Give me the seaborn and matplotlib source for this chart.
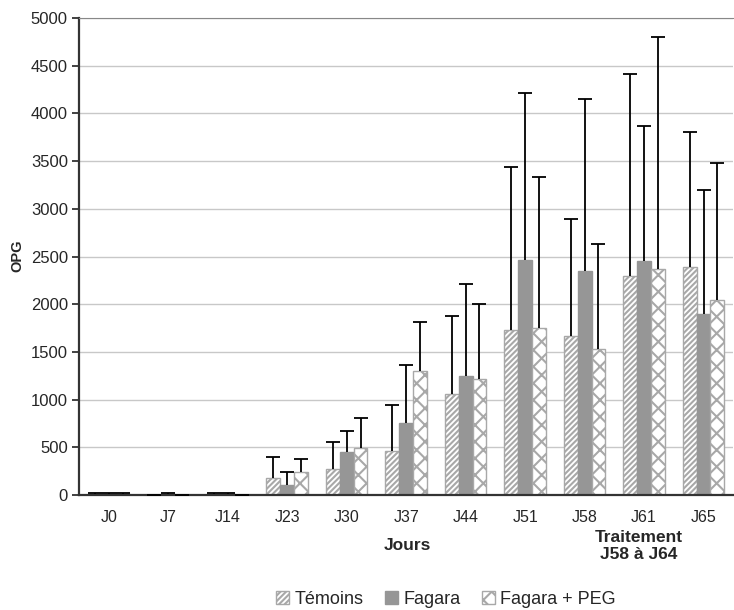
import numpy as np
import pandas as pd
import seaborn as sns
import matplotlib.pyplot as plt
from matplotlib.patches import Patch

days = ["J0", "J7", "J14", "J23", "J30", "J37", "J44", "J51", "J58", "J61", "J65"]
groups = ["Témoins", "Fagara", "Fagara + PEG"]

temoins = [15, 0, 10, 180, 270, 460, 1060, 1730, 1670, 2300, 2390]
fagara = [15, 10, 10, 100, 450, 760, 1250, 2460, 2350, 2450, 1900]
peg = [15, 0, 0, 240, 490, 1300, 1220, 1750, 1530, 2370, 2040]

temoins_top = [25, 0, 20, 400, 555, 940, 1880, 3440, 2895, 4410, 3805]
fagara_top = [25, 20, 20, 240, 670, 1360, 2210, 4210, 4150, 3870, 3200]
peg_top = [25, 0, 0, 375, 810, 1810, 2000, 3330, 2630, 4800, 3485]


def main():
    values = [temoins, fagara, peg]
    tops = [temoins_top, fagara_top, peg_top]
    df = pd.DataFrame({
        "Jours": days * 3,
        "groupe": np.repeat(groups, len(days)),
        "OPG": np.concatenate(values),
    })

    sns.set_style("white")
    plt.rcParams["font.family"] = ["Liberation Sans", "DejaVu Sans"]
    plt.rcParams["hatch.linewidth"] = 1.5

    fig = plt.figure(figsize=(7.34, 6.10), dpi=100)
    ax = fig.add_axes([0.1076, 0.1885, 0.8914, 0.782])

    grey = "#969696"
    edge = "#a8a8a8"
    sns.barplot(data=df, x="Jours", y="OPG", hue="groupe", order=days,
                hue_order=groups, errorbar=None, width=0.7, ax=ax,
                palette=["white", grey, "white"], saturation=1, legend=False)

    styles = [
        dict(facecolor="white", edgecolor=edge, hatch="//////"),
        dict(facecolor=grey, edgecolor=grey, hatch=None),
        dict(facecolor="white", edgecolor=edge, hatch="xx"),
    ]
    for cont, st, val, top in zip(ax.containers, styles, values, tops):
        xs = []
        for bar in cont:
            bar.set_facecolor(st["facecolor"])
            bar.set_edgecolor(st["edgecolor"])
            bar.set_linewidth(1.0)
            if st["hatch"]:
                bar.set_hatch(st["hatch"])
            xs.append(bar.get_x() + bar.get_width() / 2)
        err = np.clip(np.array(top) - np.array(val), 0, None)
        eb = ax.errorbar(xs, val, yerr=[np.zeros(len(val)), err], fmt="none",
                         ecolor="black", elinewidth=1.3, capsize=5,
                         capthick=1.3, zorder=3)
        # one-sided bars: hide the cap sitting on the bar top
        eb[1][0].set_visible(False)

    ax.set_ylim(0, 5000)
    ax.set_xlim(-0.5, len(days) - 0.5)
    ax.set_yticks(np.arange(0, 5001, 500))
    ax.yaxis.grid(True, color="#c8c8c8", linewidth=1)
    ax.set_axisbelow(True)

    ax.set_xticks(np.arange(len(days)))
    ax.set_xticklabels(days)
    ax.set_xticks(np.arange(-0.5, len(days), 1), minor=True)
    ax.tick_params(axis="x", which="major", length=0, labelsize=11.5, pad=11)
    ax.tick_params(axis="x", which="minor", length=5, width=1.3, color="#333333",
                   direction="out")
    ax.tick_params(axis="y", length=5, width=1.3, color="#333333", labelsize=12,
                   direction="out", left=True, pad=3)

    ax.spines["right"].set_visible(False)
    ax.spines["top"].set_color("#888888")
    for side in ["left", "bottom"]:
        ax.spines[side].set_color("#333333")
        ax.spines[side].set_linewidth(1.6)

    ax.set_xlabel("")
    ax.set_ylabel("")
    fig.text(17 / 734, 1 - 256 / 610, "OPG", rotation=90, ha="center",
             va="center", fontsize=10.5, fontweight="bold")
    fig.text(407 / 734, 1 - 545 / 610, "Jours", ha="center", va="center",
             fontsize=12.5, fontweight="bold")
    fig.text(639 / 734, 1 - 546 / 610, "Traitement\nJ58 à J64", ha="center",
             va="center", fontsize=12.5, fontweight="bold", linespacing=1.1)

    handles = [Patch(facecolor=st["facecolor"], edgecolor=st["edgecolor"],
                     hatch=st["hatch"], label=g) for st, g in zip(styles, groups)]
    fig.legend(handles=handles, loc="center",
               bbox_to_anchor=(446 / 734, 1 - 599 / 610),
               ncol=3, frameon=False, fontsize=13, handlelength=0.7,
               handleheight=0.7, handletextpad=0.3, columnspacing=1.2)

    fig.savefig("out.png", dpi=100)


if __name__ == "__main__":
    main()
